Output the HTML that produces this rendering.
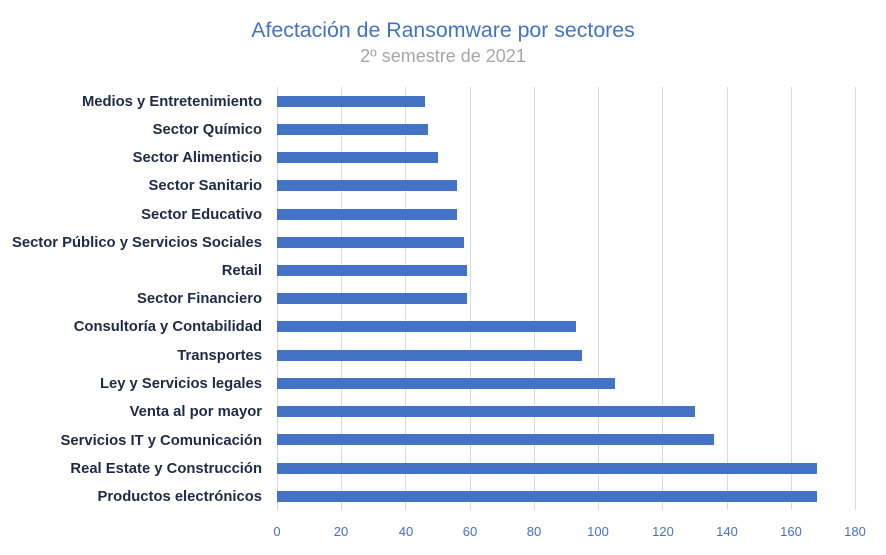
<!DOCTYPE html>
<html><head><meta charset="utf-8"><style>
body{margin:0;background:#fff;}
svg text{font-family:"Liberation Sans",sans-serif;}
</style></head><body>
<svg width="886" height="550" xmlns="http://www.w3.org/2000/svg">
<rect width="886" height="550" fill="#fff"/>
<text x="443" y="37" text-anchor="middle" font-size="21.3" fill="#4472c4">Afectación de Ransomware por sectores</text>
<text x="443" y="62" text-anchor="middle" font-size="18" fill="#a6a6a6">2º semestre de 2021</text>
<g stroke="#d9d9d9" stroke-width="1">
<line x1="277.5" y1="87" x2="277.5" y2="510"/>
<line x1="341.5" y1="87" x2="341.5" y2="510"/>
<line x1="405.5" y1="87" x2="405.5" y2="510"/>
<line x1="470.5" y1="87" x2="470.5" y2="510"/>
<line x1="534.5" y1="87" x2="534.5" y2="510"/>
<line x1="598.5" y1="87" x2="598.5" y2="510"/>
<line x1="662.5" y1="87" x2="662.5" y2="510"/>
<line x1="727.5" y1="87" x2="727.5" y2="510"/>
<line x1="791.5" y1="87" x2="791.5" y2="510"/>
<line x1="855.5" y1="87" x2="855.5" y2="510"/>
</g>
<g fill="#4472c4">
<rect x="277" y="96" width="148" height="11"/>
<rect x="277" y="124" width="151" height="11"/>
<rect x="277" y="152" width="161" height="11"/>
<rect x="277" y="180" width="180" height="11"/>
<rect x="277" y="209" width="180" height="11"/>
<rect x="277" y="237" width="187" height="11"/>
<rect x="277" y="265" width="190" height="11"/>
<rect x="277" y="293" width="190" height="11"/>
<rect x="277" y="321" width="299" height="11"/>
<rect x="277" y="350" width="305" height="11"/>
<rect x="277" y="378" width="338" height="11"/>
<rect x="277" y="406" width="418" height="11"/>
<rect x="277" y="434" width="437" height="11"/>
<rect x="277" y="463" width="540" height="11"/>
<rect x="277" y="491" width="540" height="11"/>
</g>
<g font-size="14.8" font-weight="bold" fill="#1f2a44" text-anchor="end">
<text x="262" y="106">Medios y Entretenimiento</text>
<text x="262" y="134">Sector Químico</text>
<text x="262" y="162">Sector Alimenticio</text>
<text x="262" y="190">Sector Sanitario</text>
<text x="262" y="219">Sector Educativo</text>
<text x="262" y="247">Sector Público y Servicios Sociales</text>
<text x="262" y="275">Retail</text>
<text x="262" y="303">Sector Financiero</text>
<text x="262" y="331">Consultoría y Contabilidad</text>
<text x="262" y="360">Transportes</text>
<text x="262" y="388">Ley y Servicios legales</text>
<text x="262" y="416">Venta al por mayor</text>
<text x="262" y="445">Servicios IT y Comunicación</text>
<text x="262" y="473">Real Estate y Construcción</text>
<text x="262" y="501">Productos electrónicos</text>
</g>
<g font-size="13" fill="#4472c4" text-anchor="middle">
<text x="277" y="536">0</text>
<text x="341" y="536">20</text>
<text x="406" y="536">40</text>
<text x="470" y="536">60</text>
<text x="534" y="536">80</text>
<text x="598" y="536">100</text>
<text x="663" y="536">120</text>
<text x="727" y="536">140</text>
<text x="791" y="536">160</text>
<text x="855" y="536">180</text>
</g>
</svg>
</body></html>
